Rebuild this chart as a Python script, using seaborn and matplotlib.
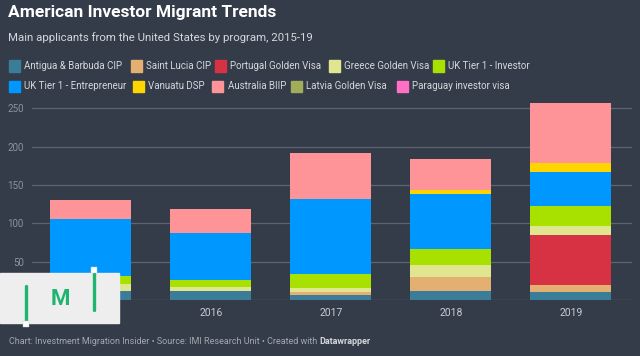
import numpy as np
import pandas as pd
import matplotlib
matplotlib.use("Agg")
import matplotlib.pyplot as plt
import seaborn as sns
from matplotlib.patches import Rectangle
from matplotlib.lines import Line2D

# Data (main applicants from the US)
years = ["2015", "2016", "2017", "2018", "2019"]
programs = ["Antigua & Barbuda CIP", "Saint Lucia CIP", "Portugal Golden Visa",
            "Greece Golden Visa", "UK Tier 1 - Investor", "UK Tier 1 - Entrepreneur",
            "Vanuatu DSP", "Australia BIIP", "Latvia Golden Visa", "Paraguay investor visa"]
antigua = [12, 12, 6, 12, 10]
saint_lucia = [0, 0, 4, 18, 10]
portugal = [0, 0, 0, 0, 65]
greece = [9, 5, 6, 16, 11]
uk_investor = [10, 9, 18, 21, 27]
uk_entrepreneur = [74, 61, 98, 71, 44]
vanuatu = [0, 0, 0, 5, 11]
australia = [25, 32, 59, 41, 79]
latvia = [0, 0, 0, 0, 0]
paraguay = [0, 0, 0, 0, 0]
y_ticks = [0, 50, 100, 150, 200, 250]

colors = ["#3b7d98", "#e3b071", "#d63244", "#dfe68f", "#a8e000",
          "#0097ff", "#ffd500", "#ff9498", "#a0ad5b", "#ff6fc4"]

series = [antigua, saint_lucia, portugal, greece, uk_investor,
          uk_entrepreneur, vanuatu, australia, latvia, paraguay]

df = pd.DataFrame({name: vals for name, vals in zip(programs, series)}, index=years)

bg = "#343c4a"
sns.set_style("dark")
plt.rcParams["font.family"] = ["Roboto", "DejaVu Sans"]

W, H = 640, 356
fig = plt.figure(figsize=(W / 100, H / 100), dpi=100, facecolor=bg)

def fx(px):
    return px / W

def fy(py):
    return 1 - py / H

ax = fig.add_axes([fx(32), fy(300), fx(600), (300 - 99) / H])
ax.set_facecolor(bg)

bottom = np.zeros(len(years))
for name, color in zip(programs, colors):
    vals = df[name].values
    sns.barplot(x=years, y=vals, bottom=bottom, color=color, saturation=1,
                width=0.675, linewidth=0, ax=ax)
    bottom = bottom + vals

ax.set_ylim(0, 262)
ax.set_xlim(-0.49, 4.51)
ax.set_yticks(y_ticks)
ax.yaxis.grid(True, color="#5d6470", linewidth=0.9)
ax.xaxis.grid(False)
ax.set_axisbelow(True)
for s in ax.spines.values():
    s.set_visible(False)
ax.tick_params(axis="y", length=0, pad=6, labelsize=7, labelcolor="#8d939c")
ax.tick_params(axis="x", length=0, pad=6, labelsize=7.5, labelcolor="#c9ccd1")
ax.set_xlabel("")
ax.set_ylabel("")

# title and subtitle
fig.text(fx(8), fy(13), "American Investor Migrant Trends", color="white",
         fontsize=12.5, fontweight="bold", va="center", ha="left")
fig.text(fx(8), fy(38), "Main applicants from the United States by program, 2015-19",
         color="#d5d8dc", fontsize=8.2, va="center", ha="left")

# legend, laid out like the reference
legend_x = [9, 131, 215, 329, 433, 9, 133, 212, 291, 397]
legend_y = [66] * 5 + [86] * 5
for name, color, lx, ly in zip(programs, colors, legend_x, legend_y):
    fig.patches.append(Rectangle((fx(lx), fy(ly + 5.5)), fx(11), 11 / H,
                                 transform=fig.transFigure, color=color))
    fig.text(fx(lx + 15.5), fy(ly), name, color="#d5d8dc", fontsize=7,
             va="center", ha="left")

# footer
foot = fig.text(fx(9), fy(341), "Chart: Investment Migration Insider \u2022 Source: IMI Research Unit \u2022 Created with ",
                color="#a3a8af", fontsize=6.5, va="center", ha="left")
fig.canvas.draw()
bb = foot.get_window_extent()
fig.text(bb.x1 / W, fy(341), "Datawrapper", color="#d5d8dc", fontsize=6.5,
         fontweight="bold", va="center", ha="left")

# IMI logo overlay
green = "#1fb46f"
fig.patches.append(Rectangle((0, fy(323)), fx(119), 50 / H, transform=fig.transFigure,
                             color="#eeeeee", zorder=5))
fig.lines.append(Line2D([fx(25.5), fx(25.5)], [fy(286), fy(322)], transform=fig.transFigure,
                        color=green, linewidth=2.4, zorder=6))
fig.patches.append(Rectangle((fx(22.5), fy(327)), fx(6), 6 / H, transform=fig.transFigure,
                             facecolor="white", edgecolor="#cccccc", linewidth=0.3, zorder=7))
fig.lines.append(Line2D([fx(94), fx(94)], [fy(272), fy(310)], transform=fig.transFigure,
                        color=green, linewidth=2.4, zorder=6))
fig.patches.append(Rectangle((fx(91), fy(273)), fx(6), 6 / H, transform=fig.transFigure,
                             facecolor="white", edgecolor="#cccccc", linewidth=0.3, zorder=7))
fig.text(fx(60), fy(299), "M", color=green, fontsize=16, fontweight="bold",
         ha="center", va="center", zorder=6)

fig.savefig("out.png", dpi=100, facecolor=bg)
